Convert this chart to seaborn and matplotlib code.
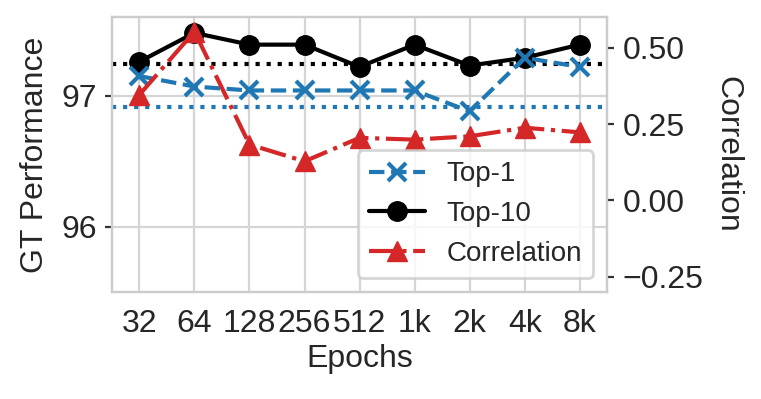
import numpy as np
import pandas as pd
import matplotlib
matplotlib.use("Agg")
import matplotlib.pyplot as plt
import seaborn as sns

# ------------------ Data ------------------
epochs = ["32", "64", "128", "256", "512", "1k", "2k", "4k", "8k"]
top1 = [97.15, 97.07, 97.04, 97.04, 97.04, 97.04, 96.88, 97.29, 97.22]
top10 = [97.26, 97.48, 97.39, 97.39, 97.22, 97.39, 97.23, 97.29, 97.39]
correlation = [0.346, 0.553, 0.183, 0.128, 0.205, 0.199, 0.210, 0.238, 0.223]
top1_ref = 96.91
top10_ref = 97.24

df = pd.DataFrame({"Epochs": epochs, "Top-1": top1, "Top-10": top10, "Correlation": correlation})

# ------------------ Style ------------------
sns.set_style("whitegrid", {"xtick.bottom": True, "ytick.left": True, "ytick.right": True,
                            "axes.edgecolor": "#cccccc", "grid.color": "#d5d5d5"})
plt.rcParams["font.family"] = ["Liberation Sans", "DejaVu Sans"]
plt.rcParams["font.size"] = 11.5

fig = plt.figure(figsize=(3.805, 1.995), dpi=200)
ax = fig.add_axes([0.147, 0.268, 0.651, 0.689])
ax2 = ax.twinx()

blue = "#1f77b4"
red = "#d62728"

sns.lineplot(data=df, x="Epochs", y="Top-1", ax=ax, color=blue, linestyle="--", marker="x",
             markersize=6.5, markeredgecolor=blue, markeredgewidth=1.5, linewidth=1.5,
             label="Top-1", legend=False, sort=False, zorder=4)
sns.lineplot(data=df, x="Epochs", y="Top-10", ax=ax, color="black", linestyle="-", marker="o",
             markersize=7, markeredgecolor="black", markeredgewidth=0.5, linewidth=1.5,
             label="Top-10", legend=False, sort=False, zorder=3)
ax.axhline(top10_ref, color="black", linestyle=":", linewidth=1.5)
ax.axhline(top1_ref, color=blue, linestyle=":", linewidth=1.5)

sns.lineplot(data=df, x="Epochs", y="Correlation", ax=ax2, color=red, linestyle="-.", marker="^",
             markersize=7.5, markeredgecolor=red, markeredgewidth=0.5, linewidth=1.5,
             label="Correlation", legend=False, sort=False)

ax.set_xlim(-0.5, 8.5)
ax.set_ylim(95.5, 97.6)
ax.set_yticks([96, 97])
ax.set_xlabel("Epochs", fontsize=11.5, labelpad=2)
ax.set_ylabel("GT Performance", fontsize=11.5, labelpad=4)
ax.tick_params(axis="x", length=0, pad=6, labelsize=11.5)
ax.tick_params(axis="y", length=2.5, width=0.8, color="#333333", pad=3, labelsize=11.5)

ax2.set_ylim(-0.3, 0.6)
ax2.set_yticks([-0.25, 0.0, 0.25, 0.5])
ax2.set_yticklabels(["\u22120.25", "0.00", "0.25", "0.50"])
ax2.grid(False)
ax2.set_ylabel("Correlation", fontsize=11.5, rotation=270, labelpad=14)
ax2.tick_params(axis="y", length=2.5, width=0.8, color="#333333", pad=3, labelsize=11.5)
for s in ax2.spines.values():
    s.set_color("#cccccc")

h1, l1 = ax.get_legend_handles_labels()
h2, l2 = ax2.get_legend_handles_labels()
ax2.legend(h1 + h2, l1 + l2, loc="lower right", fontsize=10, frameon=True,
           edgecolor="#cccccc", framealpha=0.8)

fig.savefig("out.png", dpi=200)
